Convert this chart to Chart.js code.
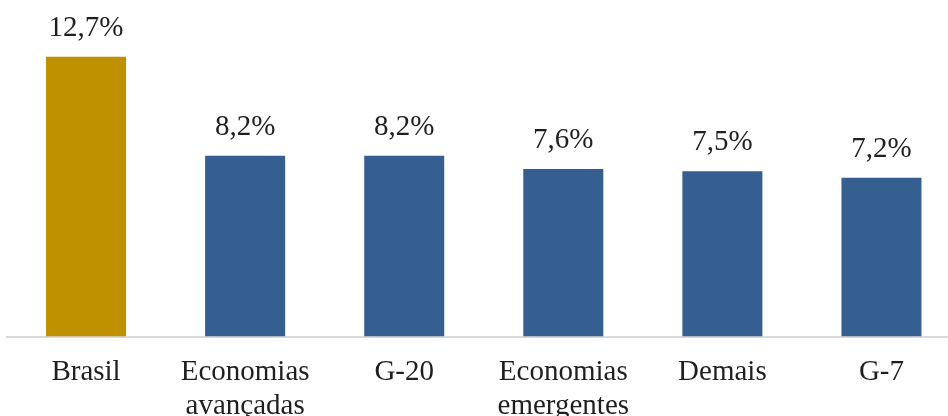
<!DOCTYPE html>
<html>
<head>
<meta charset="utf-8">
<script src="https://cdn.jsdelivr.net/npm/chart.js@4"></script>
<style>
  html, body { margin: 0; padding: 0; background: #fff; overflow: hidden; }
  #wrap { width: 948px; height: 416px; overflow: hidden; }
</style>
</head>
<body>
<div id="wrap"><canvas id="bar" width="961" height="416"></canvas></div>
<script>
var categories = ["Brasil", ["Economias", "avançadas"], "G-20", ["Economias", "emergentes"], "Demais", "G-7"];
var values = [12.7, 8.2, 8.2, 7.6, 7.5, 7.2];
var barColors = ["#BF9000", "#365F91", "#365F91", "#365F91", "#365F91", "#365F91"];

// rotulos de valor em cima das barras
var valueLabels = {
    id: 'valueLabels',
    afterDatasetsDraw: function (chart) {
        var ctx = chart.ctx;
        var meta = chart.getDatasetMeta(0);
        ctx.save();
        ctx.font = '29px "Liberation Serif"';
        ctx.fillStyle = '#1f1f1f';
        ctx.textAlign = 'center';
        ctx.textBaseline = 'alphabetic';
        meta.data.forEach(function (bar, i) {
            var txt = values[i].toFixed(1).replace('.', ',') + '%';
            ctx.fillText(txt, bar.x, bar.y - 21);
        });
        ctx.restore();
    }
};

var ctx = document.getElementById("bar").getContext('2d');
var chart = new Chart(ctx, {
    type: 'bar',
    data: {
        labels: categories,
        datasets: [{
            data: values,
            backgroundColor: barColors,
            barPercentage: 0.503,
            categoryPercentage: 1.0
        }]
    },
    options: {
        responsive: false,
        animation: false,
        devicePixelRatio: 1,
        layout: { padding: { left: 6.5, top: 6, right: 0, bottom: 0 } },
        plugins: {
            legend: { display: false },
            tooltip: { enabled: false }
        },
        scales: {
            x: {
                grid: { display: false, drawTicks: false },
                border: { display: true, color: '#d9d9d9', width: 2 },
                ticks: {
                    color: '#1f1f1f',
                    padding: 18,
                    maxRotation: 0,
                    autoSkip: false,
                    font: { family: '"Liberation Serif"', size: 29, lineHeight: 1.2 }
                },
                afterFit: function (scale) { scale.height = 79.5; }
            },
            y: {
                display: false,
                min: 0,
                max: 15
            }
        }
    },
    plugins: [valueLabels]
});
</script>
</body>
</html>
